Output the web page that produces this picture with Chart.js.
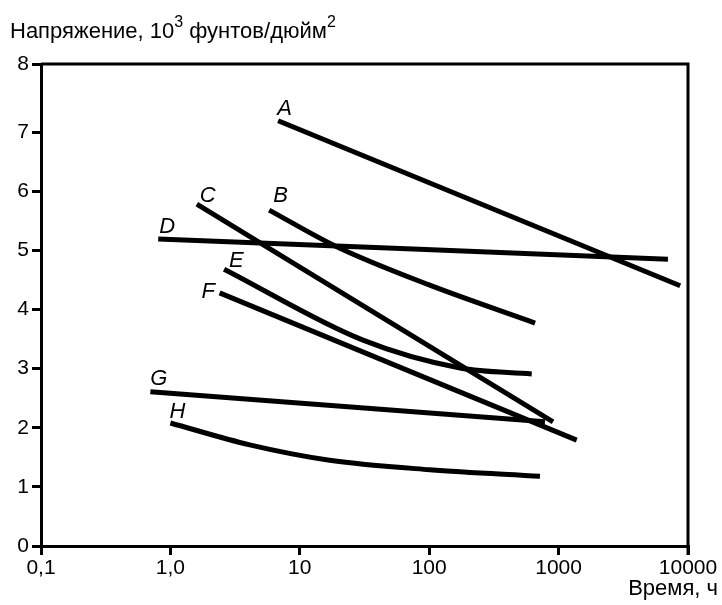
<!DOCTYPE html>
<html>
<head>
<meta charset="utf-8">
<script src="https://cdn.jsdelivr.net/npm/chart.js@4"></script>
<style>
  body { margin: 0; background: #fff; }
  #wrap { width: 722px; height: 605px; }
</style>
</head>
<body>
<div id="wrap"><canvas id="js-creep-chart"></canvas></div>
<script>
// curve names and their points (time in hours, stress in 10^3 psi)
const curveNames = ["A", "B", "C", "D", "E", "F", "G", "H"];

const timeA = [6.8, 8700];
const stressA = [7.19, 4.4];
const timeB = [5.8, 19.3, 101, 658];
const stressB = [5.68, 5.06, 4.41, 3.77];
const timeC = [1.6, 906];
const stressC = [5.78, 2.1];
const timeD = [0.805, 7000];
const stressD = [5.19, 4.85];
const timeE = [2.6, 30.8, 173, 620];
const stressE = [4.68, 3.48, 3.01, 2.91];
const timeF = [2.4, 1380];
const stressF = [4.28, 1.79];
const timeG = [0.7, 785];
const stressG = [2.61, 2.1];
const timeH = [1.0, 4.1, 17, 101, 718];
const stressH = [2.08, 1.71, 1.45, 1.29, 1.18];

const timeTicks = [0.1, 1, 10, 100, 1000, 10000];
const timeTickLabels = ["0,1", "1,0", "10", "100", "1000", "10000"];
// the top of the printed axis sits a bit above 8, its tick is labelled 8
const stressMax = 8.15;
const stressTicks = [0, 1, 2, 3, 4, 5, 6, 7, stressMax];
const stressTickLabels = ["0", "1", "2", "3", "4", "5", "6", "7", "8"];

const allTimes = [timeA, timeB, timeC, timeD, timeE, timeF, timeG, timeH];
const allStress = [stressA, stressB, stressC, stressD, stressE, stressF, stressG, stressH];

// where each letter sits relative to the first point of its curve (px)
const letterOffsets = [
  [-1, -6], [4, -8], [3, -2], [1, -6],
  [5, -2], [-18, 5], [0, -7], [-1, -5],
];

const FONT = "'Liberation Sans', Arial, sans-serif";

function makePoints(xs, ys) {
  return xs.map((x, i) => ({ x: x, y: ys[i] }));
}

const datasets = curveNames.map((name, i) => ({
  label: name,
  data: makePoints(allTimes[i], allStress[i]),
  borderColor: "#000",
  borderWidth: 5,
  pointRadius: 0,
  cubicInterpolationMode: "monotone",
  fill: false,
}));

// frame on top and right side of plot
const boxFrame = {
  id: "boxFrame",
  afterDraw(chart) {
    const { ctx, chartArea: { left, right, top, bottom } } = chart;
    ctx.save();
    ctx.strokeStyle = "#000";
    ctx.lineWidth = 3;
    ctx.beginPath();
    ctx.moveTo(left, top);
    ctx.lineTo(right, top);
    ctx.lineTo(right, bottom + 9);
    ctx.stroke();
    ctx.restore();
  },
};

// letters next to the start of each curve
const curveLetters = {
  id: "curveLetters",
  afterDatasetsDraw(chart) {
    const { ctx } = chart;
    ctx.save();
    ctx.fillStyle = "#000";
    ctx.font = "italic 22px " + FONT;
    ctx.textAlign = "left";
    ctx.textBaseline = "alphabetic";
    chart.data.datasets.forEach((ds, i) => {
      const p = chart.getDatasetMeta(i).data[0];
      const off = letterOffsets[i];
      ctx.fillText(ds.label, p.x + off[0], p.y + off[1]);
    });
    ctx.restore();
  },
};

// axis titles with superscripts
const axisTitles = {
  id: "axisTitles",
  afterDraw(chart) {
    const { ctx } = chart;
    ctx.save();
    ctx.fillStyle = "#000";
    ctx.textBaseline = "alphabetic";
    ctx.textAlign = "left";
    let x = 10;
    const y = 38;
    const parts = [
      ["Напряжение, 10", 22, 0],
      ["3", 16, -11],
      [" фунтов/дюйм", 22, 0],
      ["2", 16, -11],
    ];
    parts.forEach(([txt, size, dy]) => {
      ctx.font = size + "px " + FONT;
      ctx.fillText(txt, x, y + dy);
      x += ctx.measureText(txt).width;
    });
    ctx.font = "22px " + FONT;
    ctx.textAlign = "right";
    ctx.fillText("Время, ч", 718, 595);
    ctx.restore();
  },
};

const ctxEl = document.getElementById("js-creep-chart");

const creepChart = new Chart(ctxEl, {
  type: "line",
  data: { datasets: datasets },
  options: {
    responsive: true,
    maintainAspectRatio: false,
    animation: false,
    layout: { padding: { left: 0, right: 34, top: 64, bottom: 0 } },
    plugins: {
      legend: { display: false },
      tooltip: { enabled: false },
    },
    scales: {
      x: {
        type: "logarithmic",
        min: 0.1,
        max: 10000,
        afterFit(scale) {
          scale.height = 59;
        },
        afterBuildTicks(scale) {
          scale.ticks = timeTicks.map((v) => ({ value: v }));
        },
        ticks: {
          autoSkip: false,
          maxRotation: 0,
          color: "#000",
          padding: 1,
          font: { family: FONT, size: 21 },
          callback(value) {
            const idx = timeTicks.indexOf(value);
            return idx >= 0 ? timeTickLabels[idx] : "";
          },
        },
        grid: {
          drawOnChartArea: false,
          drawTicks: true,
          tickLength: 9,
          color: "#000",
          lineWidth: 3,
        },
        border: { color: "#000", width: 3 },
      },
      y: {
        min: 0,
        max: stressMax,
        afterFit(scale) {
          scale.width = 41;
        },
        afterBuildTicks(scale) {
          scale.ticks = stressTicks.map((v) => ({ value: v }));
        },
        ticks: {
          color: "#000",
          padding: 3,
          font: { family: FONT, size: 21 },
          callback(value) {
            const idx = stressTicks.indexOf(value);
            return idx >= 0 ? stressTickLabels[idx] : "";
          },
        },
        grid: {
          drawOnChartArea: false,
          drawTicks: true,
          tickLength: 9,
          color: "#000",
          lineWidth: 3,
        },
        border: { color: "#000", width: 3 },
      },
    },
  },
  plugins: [boxFrame, curveLetters, axisTitles],
});
</script>
</body>
</html>
